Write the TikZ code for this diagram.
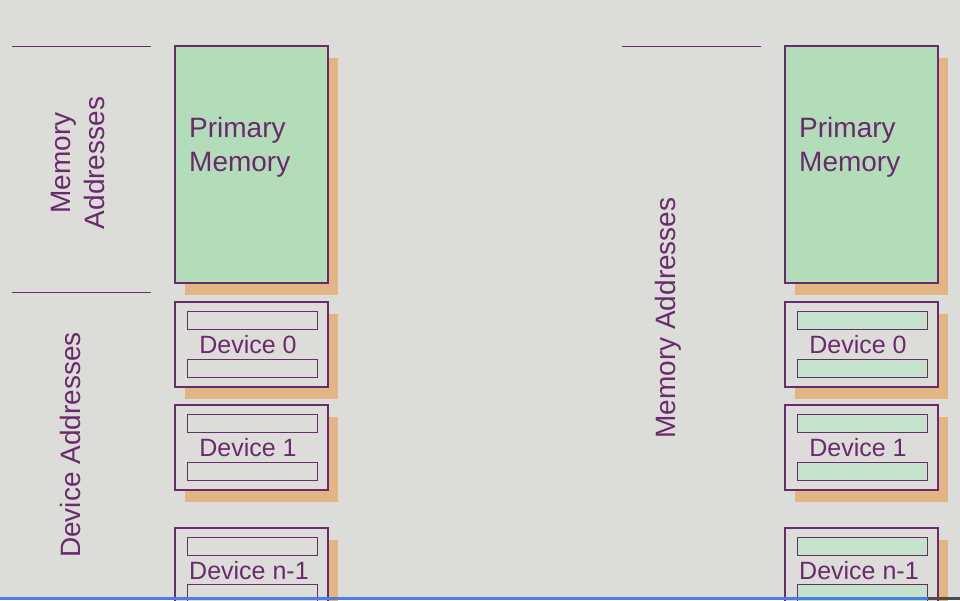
\documentclass[tikz,border=0pt]{standalone}
\usepackage{fontspec}
\setmainfont{Liberation Sans}
\definecolor{bg}{HTML}{DCDCD8}
\definecolor{pur}{HTML}{6B2A6E}
\definecolor{shd}{HTML}{E2B585}
\definecolor{grn}{HTML}{B3DDB8}
\definecolor{bar}{HTML}{C4E2CC}
\definecolor{blu}{HTML}{4A7FE0}
\begin{document}
\begin{tikzpicture}[x=1pt,y=-1pt,
  box/.style={draw=pur,line width=1.3pt},
  shadow/.style={fill=shd},
  lbl/.style={text=pur,font=\fontsize{28}{34}\selectfont,align=left,inner sep=0pt},
  dlbl/.style={text=pur,font=\fontsize{25}{28}\selectfont,inner sep=0pt},
  rule/.style={draw=pur,line width=1pt}]
\fill[bg] (0,0) rectangle (960,600);
\useasboundingbox (0,0) rectangle (960,600);
\foreach \dx/\fc/\bc in {0/grn/bg,610/grn/bar}{
  \begin{scope}[xshift=\dx]
  \fill[shadow] (185,58) rectangle (338,295);
  \draw[box,fill=\fc] (175,46) rectangle (328,283);
  \foreach \t/\n in {302/Device 0,405/Device 1}{
    \fill[shadow] (185,\t+12) rectangle (338,\t+97);
    \draw[box,fill=bg] (175,\t) rectangle (328,\t+85);
    \draw[box,line width=1pt,fill=\bc] (187,\t+9) rectangle (317,\t+27);
    \draw[box,line width=1pt,fill=\bc] (187,\t+57) rectangle (317,\t+75);
    \node[dlbl,anchor=center] at (248,\t+43) {\n};
  }
  \fill[shadow] (185,540) rectangle (338,610);
  \draw[box,fill=bg] (175,528) rectangle (328,620);
  \draw[box,line width=1pt,fill=\bc] (187,537) rectangle (317,555);
  \draw[box,line width=1pt,fill=\bc] (187,584) rectangle (317,602);
  \end{scope}
}
\node[lbl,anchor=west] (pm1) at (189,147) {Primary\\Memory};
\node[lbl,anchor=west] (pm2) at (799,147) {Primary\\Memory};
\node[dlbl,anchor=west] (dn1) at (189,571) {Device n-1};
\node[dlbl,anchor=west] (dn2) at (799,571) {Device n-1};
\draw[rule] (12,46) -- (151,46);
\draw[rule] (12,292) -- (151,292);
\draw[rule] (622,46) -- (761,46);
\node[lbl,rotate=90,align=center] (ma1) at (78,163) {Memory\\Addresses};
\node[lbl,rotate=90] (da1) at (70,445) {Device Addresses};
\node[lbl,rotate=90] (ma2) at (668,318) {Memory Addresses};
\fill[blu] (0,597) rectangle (928,600);
\fill[black!70] (928,597) rectangle (960,600);
\end{tikzpicture}
\end{document}
